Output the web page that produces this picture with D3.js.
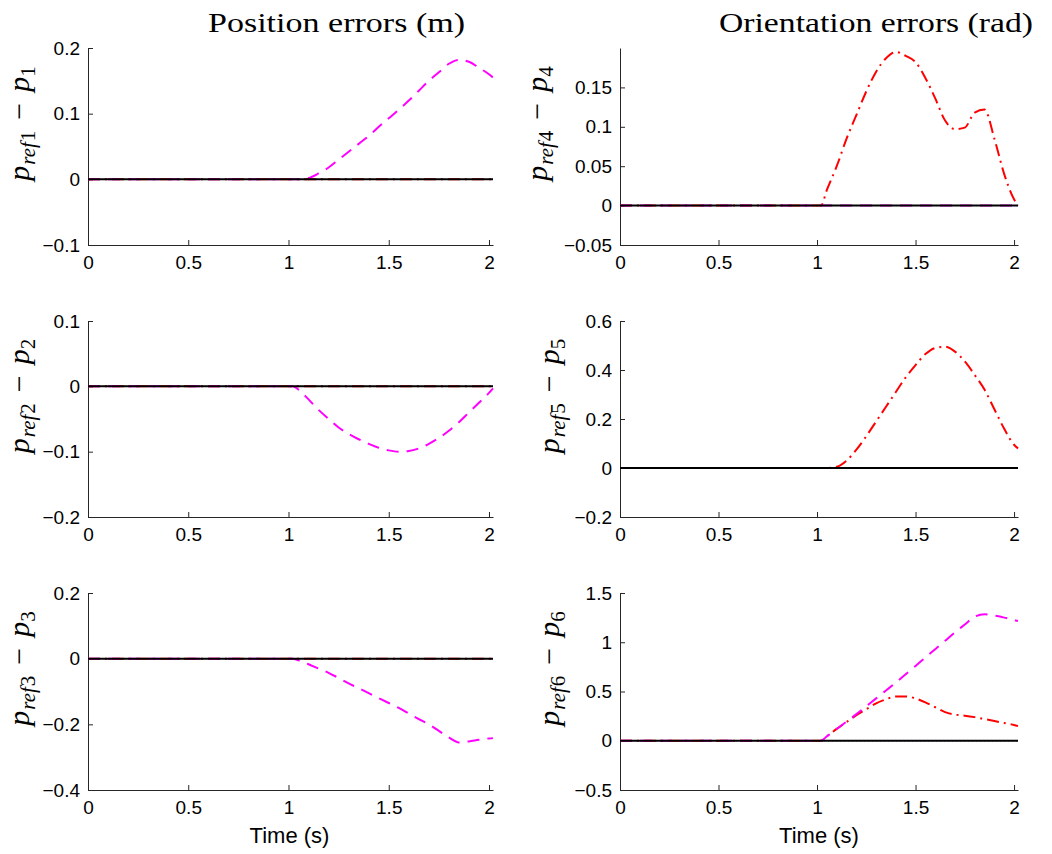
<!DOCTYPE html>
<html>
<head>
<meta charset="utf-8">
<script src="https://cdn.jsdelivr.net/npm/d3@7"></script>
<style>
body { margin: 0; background: #fff; }
</style>
</head>
<body>
<div id="chart"></div>
<script>
//Time samples shared by every curve (s).
const time = [0, 0.5, 1, 1.02, 1.05, 1.1, 1.15, 1.2, 1.25, 1.3, 1.35, 1.4, 1.45, 1.5, 1.55, 1.6, 1.65, 1.7, 1.75, 1.8, 1.85, 1.9, 1.95, 2, 2.02];

//Curves that stay on zero.
const zero = [0, 0, 0, 0, 0, 0, 0, 0, 0, 0, 0, 0, 0, 0, 0, 0, 0, 0, 0, 0, 0, 0, 0, 0, 0];

//Magenta dashed curves.
const p1Dashed = [0, 0, 0, 0, 0, 0.002, 0.009, 0.018, 0.03, 0.042, 0.054, 0.066, 0.08, 0.093, 0.106, 0.12, 0.135, 0.15, 0.163, 0.176, 0.182, 0.179, 0.17, 0.16, 0.155];
const p2Dashed = [0, 0, 0, 0, -0.005, -0.02, -0.036, -0.05, -0.063, -0.073, -0.081, -0.088, -0.094, -0.098, -0.1, -0.099, -0.095, -0.088, -0.079, -0.068, -0.055, -0.04, -0.025, -0.01, -0.003];
const p3Dashed = [0, 0, 0, 0, -0.005, -0.017, -0.03, -0.043, -0.059, -0.075, -0.09, -0.105, -0.12, -0.135, -0.15, -0.167, -0.184, -0.2, -0.22, -0.24, -0.255, -0.252, -0.247, -0.243, -0.242];
const p6Dashed = [0, 0, 0, 0, 0.045, 0.12, 0.195, 0.27, 0.35, 0.43, 0.51, 0.59, 0.675, 0.76, 0.845, 0.93, 1.015, 1.1, 1.18, 1.26, 1.285, 1.27, 1.25, 1.225, 1.215];

//Red dash-dot curves.
const p4DashDot = [0, 0, 0, 0, 0.02, 0.05, 0.085, 0.115, 0.145, 0.17, 0.187, 0.195, 0.19, 0.182, 0.162, 0.136, 0.108, 0.097, 0.099, 0.118, 0.122, 0.085, 0.04, 0.008, 0];
const p5DashDot = [0, 0, 0, 0, 0, 0.005, 0.03, 0.075, 0.13, 0.19, 0.25, 0.31, 0.37, 0.42, 0.465, 0.49, 0.495, 0.475, 0.435, 0.38, 0.32, 0.24, 0.16, 0.095, 0.08];
const p6DashDot = [0, 0, 0, 0, 0.045, 0.12, 0.19, 0.26, 0.32, 0.38, 0.42, 0.45, 0.45, 0.43, 0.39, 0.34, 0.29, 0.265, 0.255, 0.24, 0.22, 0.2, 0.18, 0.16, 0.15];

//Tick labels.
const xTicks = [0, 0.5, 1, 1.5, 2];
const yTicks1 = [-0.1, 0, 0.1, 0.2];
const yTicks2 = [-0.2, -0.1, 0, 0.1];
const yTicks3 = [-0.4, -0.2, 0, 0.2];
const yTicks4 = [-0.05, 0, 0.05, 0.1, 0.15];
const yTicks5 = [-0.2, 0, 0.2, 0.4, 0.6];
const yTicks6 = [-0.5, 0, 0.5, 1, 1.5];

const titles = ["Position errors (m)", "Orientation errors (rad)"];
const xLabel = "Time (s)";

//One entry per subplot.
const panels = [
    {n: 1, col: 0, row: 0, yDomain: [-0.1, 0.2], yTicks: yTicks1, dashed: p1Dashed, dashDot: zero},
    {n: 2, col: 0, row: 1, yDomain: [-0.2, 0.1], yTicks: yTicks2, dashed: p2Dashed, dashDot: zero},
    {n: 3, col: 0, row: 2, yDomain: [-0.4, 0.2], yTicks: yTicks3, dashed: p3Dashed, dashDot: zero},
    {n: 4, col: 1, row: 0, yDomain: [-0.05, 0.2], yTicks: yTicks4, dashed: zero, dashDot: p4DashDot},
    {n: 5, col: 1, row: 1, yDomain: [-0.2, 0.6], yTicks: yTicks5, dashed: zero, dashDot: p5DashDot},
    {n: 6, col: 1, row: 2, yDomain: [-0.5, 1.5], yTicks: yTicks6, dashed: p6Dashed, dashDot: p6DashDot}
];

const W = 1052, H = 854;
const cols = [[88, 493], [620, 1018]];
const rows = [[48, 245], [321, 517], [593, 790]];
const labelX = {1: 29, 2: 29, 3: 29, 4: 547, 5: 559, 6: 559};

const sans = "'Liberation Sans', Arial, Helvetica, sans-serif";
const serif = "'Liberation Serif', 'Times New Roman', serif";

const svg = d3.select("#chart")
    .append("svg")
    .attr("width", W)
    .attr("height", H)
    .style("display", "block");

//Column titles.
svg.append("text")
    .attr("x", 208).attr("y", 32)
    .attr("textLength", 257)
    .attr("lengthAdjust", "spacingAndGlyphs")
    .style("font-family", serif).style("font-size", "28px")
    .text(titles[0]);
svg.append("text")
    .attr("x", 719).attr("y", 32)
    .attr("textLength", 314)
    .attr("lengthAdjust", "spacingAndGlyphs")
    .style("font-family", serif).style("font-size", "28px")
    .text(titles[1]);

panels.forEach(function(p) {
    const x = d3.scaleLinear().domain([0, 2.02]).range(cols[p.col]);
    const y = d3.scaleLinear().domain(p.yDomain).range([rows[p.row][1], rows[p.row][0]]);
    const g = svg.append("g");

    //Axes, MATLAB style with inward ticks.
    const xAxis = g.append("g")
        .attr("transform", "translate(0," + rows[p.row][1] + ")")
        .call(d3.axisBottom(x).tickValues(xTicks).tickFormat(d3.format("")).tickSizeInner(-5).tickSizeOuter(0).tickPadding(11));
    const yAxis = g.append("g")
        .attr("transform", "translate(" + cols[p.col][0] + ",0)")
        .call(d3.axisLeft(y).tickValues(p.yTicks).tickFormat(d3.format("")).tickSizeInner(-5).tickSizeOuter(0).tickPadding(8));
    [xAxis, yAxis].forEach(function(a) {
        a.selectAll("path, line").attr("stroke", "#262626").attr("stroke-width", 1);
        a.selectAll("text").attr("fill", "#000").style("font-family", sans).style("font-size", "19px");
    });

    const line = d3.line()
        .x(function(d, i) { return x(time[i]); })
        .y(function(d) { return y(d); })
        .curve(d3.curveMonotoneX);

    const series = [
        {values: zero, color: "#0000ff", dash: "1,3", w: 1},
        {values: p.dashDot, color: "#ff0000", dash: "12,5,2,5", w: 2},
        {values: p.dashed, color: "#ff00ff", dash: "12,8", w: 2},
        {values: zero, color: "#000000", dash: null, w: 2}
    ];
    g.selectAll(".curve")
        .data(series)
        .enter()
        .append("path")
        .attr("class", "curve")
        .attr("fill", "none")
        .attr("stroke", function(d) { return d.color; })
        .attr("stroke-width", function(d) { return d.w; })
        .attr("stroke-dasharray", function(d) { return d.dash; })
        .attr("d", function(d) { return line(d.values); });

    //Y label: p_{ref n} - p_n
    const cy = (rows[p.row][0] + rows[p.row][1]) / 2 - 23;
    const lab = g.append("text")
        .attr("transform", "translate(" + labelX[p.n] + "," + cy + ") rotate(-90)")
        .attr("text-anchor", "middle")
        .style("font-family", serif).style("font-size", "30px");
    lab.append("tspan").style("font-style", "italic").text("p");
    lab.append("tspan").attr("dy", 6).attr("dx", 1).style("font-size", "21px").style("font-style", "italic").text("ref");
    lab.append("tspan").attr("dx", 1).style("font-size", "21px").text(p.n);
    lab.append("tspan").attr("dy", -6).attr("dx", 11).text("\u2212");
    lab.append("tspan").attr("dx", 11).style("font-style", "italic").text("p");
    lab.append("tspan").attr("dy", 6).style("font-size", "21px").text(p.n);

    //Time label under the bottom row.
    if (p.row === 2) {
        g.append("text")
            .attr("x", (cols[p.col][0] + cols[p.col][1]) / 2 + (p.col === 0 ? -1 : 0))
            .attr("y", 843)
            .attr("text-anchor", "middle")
            .style("font-family", sans).style("font-size", "22px")
            .text(xLabel);
    }
});
</script>
</body>
</html>
